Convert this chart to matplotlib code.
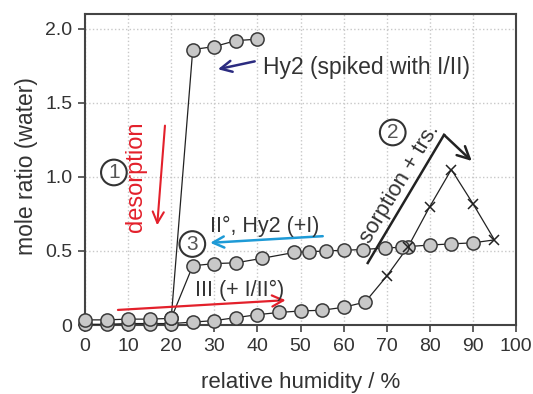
import matplotlib.pyplot as plt

plt.rcParams['font.family'] = ['Liberation Sans', 'DejaVu Sans']

# sorption branch III (+ I/II°), circles
rh_sorp = [0, 5, 10, 15, 20, 25, 30, 35, 40, 45, 50, 55, 60, 65]
mr_sorp = [0.005, 0.005, 0.01, 0.01, 0.01, 0.02, 0.03, 0.05, 0.07, 0.085, 0.095, 0.10, 0.12, 0.155]

# sorption + transformation, crosses
rh_trs = [70, 75, 80, 85, 90, 95]
mr_trs = [0.33, 0.53, 0.80, 1.05, 0.82, 0.575]

# desorption branch II°, Hy2 (+I), circles
rh_des = [90, 85, 80, 75, 73.5, 69.5, 64.5, 60, 56, 52, 48.5, 41, 35, 30, 25,
          20, 15, 10, 5, 0]
mr_des = [0.555, 0.548, 0.54, 0.53, 0.525, 0.52, 0.51, 0.505, 0.50, 0.495, 0.49,
          0.45, 0.42, 0.415, 0.40, 0.045, 0.04, 0.04, 0.035, 0.035]

# Hy2 spiked with I/II, desorption
rh_hy2 = [40, 35, 30, 25, 20]
mr_hy2 = [1.93, 1.92, 1.88, 1.86, 0.045]

circ = dict(marker='o', ms=9.5, mfc='#c8c8c8', mec='#3a3a3a', mew=1.1, ls='none',
            clip_on=False, zorder=4)

fig = plt.figure(figsize=(5.33, 3.94), dpi=100)
ax = fig.add_axes([0.1595, 0.175, 0.8086, 0.7895])

# connecting lines
path_x = rh_sorp + rh_trs + rh_des
path_y = mr_sorp + mr_trs + mr_des
ax.plot(path_x, path_y, color='#222222', lw=0.9, zorder=3, clip_on=False)
ax.plot(rh_hy2, mr_hy2, color='#222222', lw=0.9, zorder=3, clip_on=False)

ax.plot(rh_sorp, mr_sorp, **circ)
ax.plot(rh_des, mr_des, **circ)
ax.plot(rh_hy2, mr_hy2, **circ)
ax.plot(rh_trs, mr_trs, marker='x', ms=7.5, mew=1.1, color='#222222', ls='none',
        zorder=5, clip_on=False)

ax.set_xlim(0, 100)
ax.set_ylim(0, 2.1)
ax.set_xticks(range(0, 101, 10))
ax.set_yticks([0, 0.5, 1.0, 1.5, 2.0])
ax.set_yticklabels(['0', '0.5', '1.0', '1.5', '2.0'])
ax.grid(True, color='#c8c8c8', ls=':', lw=1.0)
ax.set_axisbelow(True)
for s in ax.spines.values():
    s.set_color('#444444')
    s.set_linewidth(1.5)
ax.tick_params(direction='out', length=5, width=1.2, color='#444444',
               labelsize=14, labelcolor='#333333', pad=4)
ax.set_xlabel('relative humidity / %', fontsize=16, color='#333333', va='center')
ax.xaxis.set_label_coords(0.5, -0.186)
ax.set_ylabel('mole ratio (water)', fontsize=16.5, color='#333333', va='center')
ax.yaxis.set_label_coords(-0.135, 0.51)

# annotations
fs = 15.5
ax.annotate('', xy=(30.2, 1.723), xytext=(40.0, 1.784),
            arrowprops=dict(arrowstyle='->', color='#2b2b80', lw=1.8,
                            mutation_scale=20))
ax.text(41.4, 1.736, 'Hy2 (spiked with I/II)', fontsize=16.5, color='#333333',
        va='center', ha='left')

ax.annotate('', xy=(16.7, 0.655), xytext=(18.6, 1.365),
            arrowprops=dict(arrowstyle='->', color='#e3202b', lw=1.5,
                            mutation_scale=20))
ax.text(11.9, 1.0, 'desorption', fontsize=17, color='#e3202b', rotation=90,
        ha='center', va='center')

ax.annotate('', xy=(28.4, 0.554), xytext=(55.8, 0.601),
            arrowprops=dict(arrowstyle='->', color='#1e9ad6', lw=1.8,
                            mutation_scale=20))
ax.text(29.1, 0.669, 'II°, Hy2 (+I)', fontsize=fs, color='#333333',
        ha='left', va='center')

ax.annotate('', xy=(47.2, 0.169), xytext=(7.0, 0.101),
            arrowprops=dict(arrowstyle='->', color='#e3202b', lw=1.6,
                            mutation_scale=20))
ax.text(25.6, 0.236, 'III (+ I/II°)', fontsize=fs, color='#333333',
        ha='left', va='center')

ax.plot([65.6, 83.3], [0.419, 1.284], color='#222222', lw=1.8, zorder=3)
ax.annotate('', xy=(90.2, 1.095), xytext=(83.3, 1.284),
            arrowprops=dict(arrowstyle='->', color='#222222', lw=1.8,
                            mutation_scale=22, shrinkA=0))
ax.text(73.1, 0.955, 'sorption + trs.', fontsize=16, color='#333333',
        rotation=59, rotation_mode='anchor', ha='center', va='center')

for num, x, y in [('1', 6.7, 1.03), ('2', 71.4, 1.30), ('3', 24.9, 0.547)]:
    ax.text(x, y, num, fontsize=15, color='#555555', ha='center', va='center',
            zorder=6,
            bbox=dict(boxstyle='circle,pad=0.16', fc='white', ec='#333333', lw=1.5))

fig.savefig('out.png', dpi=100)
